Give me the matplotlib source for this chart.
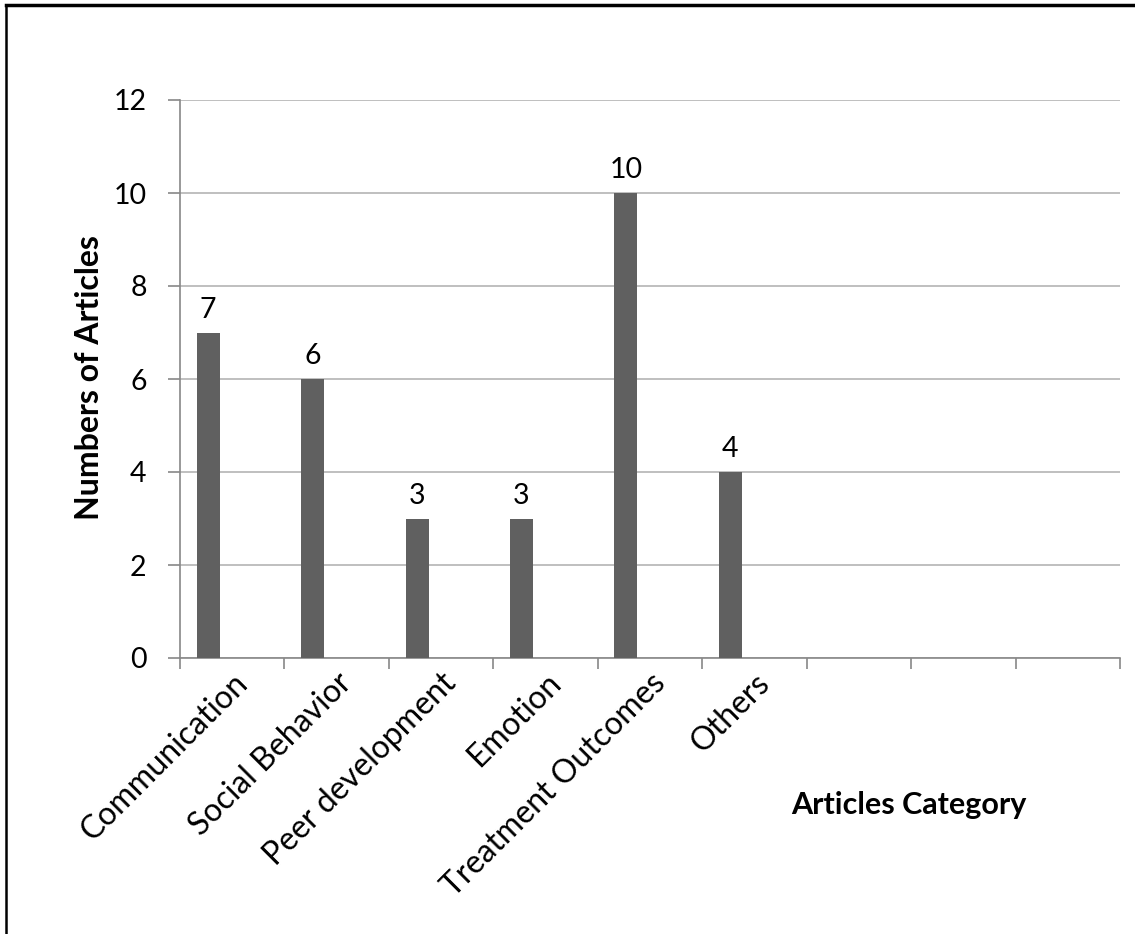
import numpy as np
import matplotlib
matplotlib.use("Agg")
import matplotlib.pyplot as plt
from matplotlib.lines import Line2D

# ---- data ----
categories = ["Communication", "Social Behavior", "Peer development", "Emotion",
              "Treatment Outcomes", "Others", "", "", ""]
counts = [7, 6, 3, 3, 10, 4, None, None, None]
y_ticks = [0, 2, 4, 6, 8, 10, 12]

plt.rcParams["font.family"] = ["Lato", "DejaVu Sans"]

W, H = 1135, 934
fig = plt.figure(figsize=(W/100, H/100), dpi=100, facecolor="white")
ax = fig.add_axes([180/W, 1-658/H, 940/W, 558/H])

BAR_C = "#606060"; GRID_C = "#bfbfbf"; AX_C = "#888888"
OFFS = 0.27   # bar sits left of slot centre, like the excel layout
BW = 0.22

x = np.arange(len(categories))
for i, v in enumerate(counts):
    if v is None:
        continue
    xc = i - 0.5 + OFFS
    ax.bar(xc, v, width=BW, color=BAR_C, zorder=3)
    ax.annotate(str(v), (xc, v), xytext=(0, 7), textcoords="offset points",
                ha="center", va="bottom", fontsize=20.5, color="black")

ax.set_xlim(-0.5, len(categories) - 0.5)
ax.set_ylim(0, 12)
ax.set_yticks(y_ticks)
ax.yaxis.grid(True, color=GRID_C, lw=1.4, zorder=0)
ax.set_axisbelow(True)

# category labels at slot centres, tick marks at slot edges
ax.set_xticks(x)
ax.set_xticklabels(categories, rotation=45, ha="right", rotation_mode="anchor",
                   fontsize=23)
ax.set_xticks(np.arange(len(categories) + 1) - 0.5, minor=True)
ax.tick_params(axis="x", which="major", length=0, pad=7)
ax.tick_params(axis="x", which="minor", length=8, color=AX_C, width=1.2)
ax.tick_params(axis="y", length=9, color=AX_C, width=1.2, pad=15, labelsize=20.5)

for s in ["top", "right"]:
    ax.spines[s].set_visible(False)
for s in ["left", "bottom"]:
    ax.spines[s].set_color(AX_C)
    ax.spines[s].set_linewidth(1.2)

fig.text(90/W, 1-378/H, "Numbers of Articles", rotation=90, ha="center", va="center",
         fontsize=23, fontweight="bold")
fig.text(909/W, 1-805/H, "Articles Category", ha="center", va="center",
         fontsize=22, fontweight="bold")

# border along top and left edge
fig.add_artist(Line2D([6/W, 6/W], [0, 1-5/H], transform=fig.transFigure, color="black", lw=1.8))
fig.add_artist(Line2D([6/W, 1], [1-5/H, 1-5/H], transform=fig.transFigure, color="black", lw=2.5))

fig.savefig("out.png", dpi=100, facecolor="white")
